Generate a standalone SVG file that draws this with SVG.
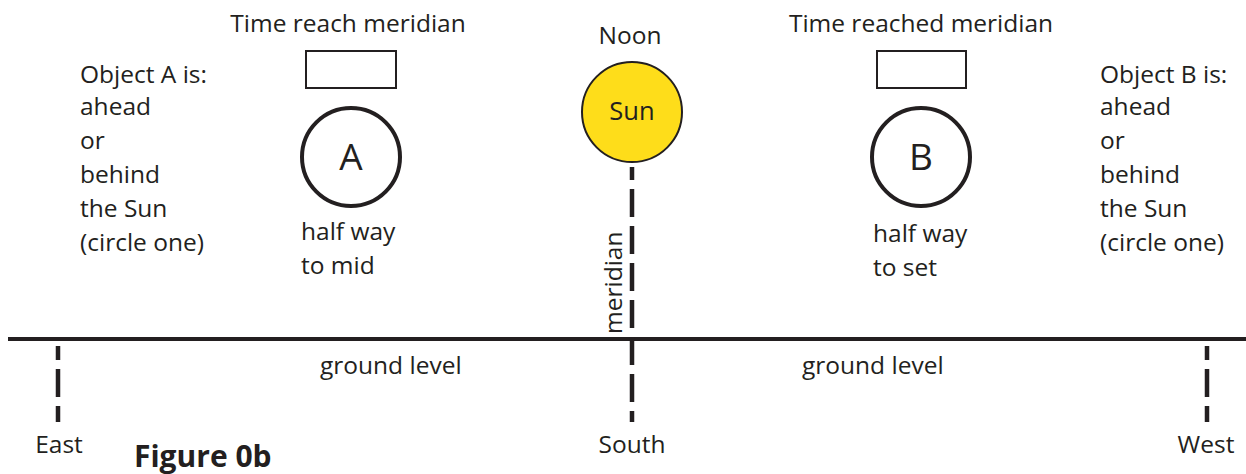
<svg xmlns="http://www.w3.org/2000/svg" width="1246" height="474" viewBox="0 0 1246 474">
  <style>
    .t { font-family: "Open Sans", "Liberation Sans", sans-serif; font-size: 24.5px; fill: #231f20; }
    .mid { text-anchor: middle; }
    .big { font-size: 37px; }
    .bold { font-weight: bold; font-size: 30px; }
    .dash { stroke: #231f20; stroke-width: 4.5; fill: none; stroke-dasharray: 28 9; }
    .box { fill: #fff; stroke: #231f20; stroke-width: 2; }
    .ring { fill: #fff; stroke: #231f20; stroke-width: 4; }
  </style>

  <rect width="1246" height="474" fill="#fff"/>

  <!-- connectors: ground level and the dashed direction lines -->
  <g id="connectors">
    <line x1="8" y1="339" x2="1246" y2="339" stroke="#231f20" stroke-width="4"/>
    <line class="dash" x1="632" y1="167" x2="632" y2="422" stroke-dashoffset="15"/>
    <line class="dash" x1="58" y1="346" x2="58" y2="422" stroke-dashoffset="14"/>
    <line class="dash" x1="1207" y1="346" x2="1207" y2="422" stroke-dashoffset="14"/>
  </g>

  <!-- Sun at noon -->
  <g id="sun">
    <text class="t mid" x="630" y="44">Noon</text>
    <circle cx="632" cy="112" r="50" fill="#fedd1a" stroke="#231f20" stroke-width="2"/>
    <text class="t mid" x="632" y="120" style="font-size:25.5px">Sun</text>
  </g>

  <!-- Object A -->
  <g id="objectA">
    <text class="t mid" x="348" y="32">Time reach meridian</text>
    <rect class="box" x="306" y="51" width="90" height="37"/>
    <circle class="ring" cx="351" cy="157" r="49"/>
    <text class="t mid big" x="351" y="170">A</text>
    <text class="t" x="301" y="240">half way</text>
    <text class="t" x="301" y="274">to mid</text>
  </g>

  <g id="questionA">
    <text class="t" x="80" y="83">Object A is:</text>
    <text class="t" x="80" y="115">ahead</text>
    <text class="t" x="80" y="149">or</text>
    <text class="t" x="80" y="183">behind</text>
    <text class="t" x="80" y="217">the Sun</text>
    <text class="t" x="80" y="251">(circle one)</text>
  </g>

  <!-- Object B -->
  <g id="objectB">
    <text class="t mid" x="921" y="32">Time reached meridian</text>
    <rect class="box" x="877" y="51" width="89" height="37"/>
    <circle class="ring" cx="921" cy="157" r="49"/>
    <text class="t mid big" x="921" y="170">B</text>
    <text class="t" x="873" y="242">half way</text>
    <text class="t" x="873" y="276">to set</text>
  </g>

  <g id="questionB">
    <text class="t" x="1100" y="83">Object B is:</text>
    <text class="t" x="1100" y="115">ahead</text>
    <text class="t" x="1100" y="149">or</text>
    <text class="t" x="1100" y="183">behind</text>
    <text class="t" x="1100" y="217">the Sun</text>
    <text class="t" x="1100" y="251">(circle one)</text>
  </g>

  <!-- labels along the meridian and ground -->
  <g id="labels">
    <text class="t" transform="translate(622 334) rotate(-90)">meridian</text>
    <text class="t" x="320" y="374">ground level</text>
    <text class="t" x="802" y="374">ground level</text>
    <text class="t mid" x="59" y="453">East</text>
    <text class="t mid" x="632" y="453">South</text>
    <text class="t mid" x="1206" y="453">West</text>
    <text class="t bold" x="134" y="467">Figure 0b</text>
  </g>
</svg>
